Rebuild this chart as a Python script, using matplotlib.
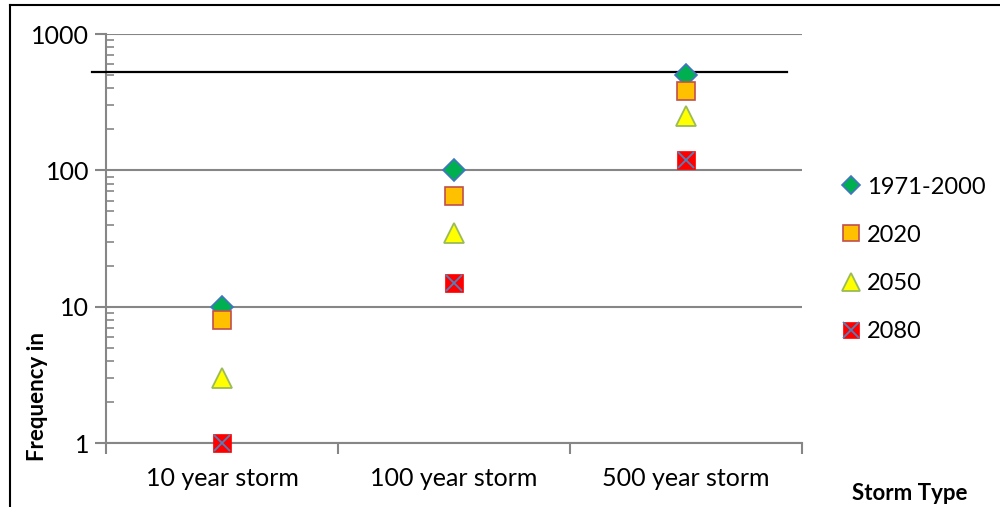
import matplotlib.pyplot as plt
from matplotlib.lines import Line2D
from matplotlib.ticker import LogLocator, NullFormatter, FixedLocator

plt.rcParams['font.family'] = ['Lato', 'DejaVu Sans']

storms = ["10 year storm", "100 year storm", "500 year storm"]
s_1971 = [10, 100, 500]
s_2020 = [8, 65, 380]
s_2050 = [3, 35, 250]
s_2080 = [1, 15, 120]
ref_level = 530

fig = plt.figure(figsize=(10, 5.07), dpi=100)
ax = fig.add_axes([0.106, 0.1262, 0.696, 0.8067])
x = range(len(storms))

grey = "#868686"
ax.set_yscale("log")
ax.set_ylim(1, 1000)
ax.set_xlim(-0.5, 2.5)

# reference line
ax.plot([-0.56, 2.436], [ref_level, ref_level], color="black", lw=1.6, clip_on=False, zorder=3)

ax.plot(x, s_1971, ls="none", marker="D", ms=11.5, mfc="#00B050", mec="#4472C4", mew=1.2, zorder=5, clip_on=False)
ax.plot(x, s_2020, ls="none", marker="s", ms=13, mfc="#FFC000", mec="#C0504D", mew=1.2, zorder=5, clip_on=False)
ax.plot(x, s_2050, ls="none", marker="^", ms=14, mfc="#FFFF00", mec="#9BBB59", mew=1.3, zorder=5, clip_on=False)
ax.plot(x, s_2080, ls="none", marker="s", ms=13, mfc="#FF0000", mec="#FF0000", mew=0.5, zorder=5, clip_on=False)
ax.plot(x, s_2080, ls="none", marker="x", ms=12, mec="#4F81BD", mew=1.3, zorder=6, clip_on=False)

h1 = Line2D([], [], ls="none", marker="D", ms=9.5, mfc="#00B050", mec="#4472C4", mew=1.2)
h2 = Line2D([], [], ls="none", marker="s", ms=12, mfc="#FFC000", mec="#C0504D", mew=1.2)
h3 = Line2D([], [], ls="none", marker="^", ms=12.5, mfc="#FFFF00", mec="#9BBB59", mew=1.3)
h4a = Line2D([], [], ls="none", marker="s", ms=12, mfc="#FF0000", mec="#FF0000", mew=0.5)
h4b = Line2D([], [], ls="none", marker="x", ms=11, mec="#4F81BD", mew=1.3)
fig.legend([h1, h2, h3, (h4a, h4b)], ["1971-2000", "2020", "2050", "2080"],
           loc="upper left", bbox_to_anchor=(0.823, 0.689), frameon=False,
           fontsize=17, handlelength=0.8, handletextpad=0.25, labelspacing=1.15,
           borderpad=0.3)

# axes styling
for side in ["top", "right"]:
    ax.spines[side].set_visible(False)
for side in ["left", "bottom"]:
    ax.spines[side].set_color(grey)
    ax.spines[side].set_linewidth(1.5)

ax.yaxis.set_major_locator(FixedLocator([1, 10, 100, 1000]))
ax.set_yticklabels(["1", "10", "100", "1000"])
ax.yaxis.set_minor_locator(LogLocator(base=10, subs=range(2, 10)))
ax.yaxis.set_minor_formatter(NullFormatter())
ax.tick_params(axis="y", which="major", direction="out", length=8, width=1.5, color=grey, labelsize=18, pad=4)
ax.tick_params(axis="y", which="minor", direction="in", length=6, width=1.2, color=grey)
ax.grid(axis="y", which="major", color=grey, lw=1.5)

ax.set_xticks([-0.5, 0.5, 1.5, 2.5])
ax.set_xticklabels([])
ax.set_xticks(list(x), minor=True)
ax.set_xticklabels(storms, minor=True)
ax.tick_params(axis="x", which="major", direction="out", length=8, width=1.5, color=grey)
ax.tick_params(axis="x", which="minor", length=0, labelsize=18, pad=17)

fig.text(0.037, 0.217, "Frequency in", rotation=90, ha="center", va="center", fontsize=16, fontweight="bold")
fig.text(0.910, 0.026, "Storm Type", ha="center", va="center", fontsize=16, fontweight="bold")

# outer border
fig.add_artist(Line2D([0.010, 0.010], [0, 0.990], color="black", lw=1.5, transform=fig.transFigure))
fig.add_artist(Line2D([0.010, 1.0], [0.990, 0.990], color="black", lw=1.5, transform=fig.transFigure))

fig.savefig("out.png", dpi=100)
